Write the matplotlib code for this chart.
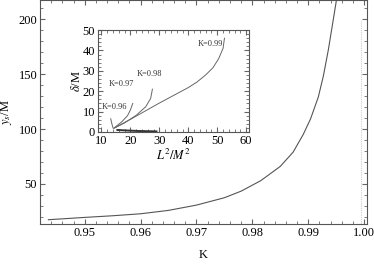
import numpy as np
import matplotlib.pyplot as plt
from matplotlib.ticker import MultipleLocator

plt.rcParams['font.family'] = ['Liberation Serif', 'DejaVu Serif']
plt.rcParams['mathtext.fontset'] = 'stix'

# main curve: y_s/M against K
K = [0.9435, 0.946, 0.95, 0.955, 0.96, 0.965, 0.97, 0.975, 0.978,
     0.9815, 0.985, 0.9873, 0.9891, 0.9904, 0.9918, 0.9927, 0.9936, 0.9945, 0.9952]
ys = [17.5, 18.3, 19.6, 21.1, 22.9, 26.0, 30.8, 37.5, 43.5,
      53.0, 66.0, 79.0, 95.0, 109.0, 129.0, 148.0, 172.0, 200.0, 222.0]

# inset curves: delta/M against L^2/M^2
L99 = [14.2, 20.0, 25.0, 30.0, 35.0, 40.0, 43.0, 46.0, 48.5, 50.5, 52.0, 52.5]
d99 = [1.8, 6.2, 10.2, 14.2, 18.0, 21.8, 24.5, 28.0, 31.5, 36.0, 41.0, 46.0]
L98 = [14.6, 18.0, 22.0, 25.3, 27.0, 27.6]
d98 = [2.0, 4.5, 8.2, 12.4, 16.5, 21.0]
L97 = [14.4, 17.0, 19.0, 20.0, 20.8]
d97 = [2.0, 5.0, 8.0, 10.8, 14.0]
L96 = [14.0, 13.6, 13.2]
d96 = [2.0, 4.0, 6.5]
L_low = [15.5, 18.0, 21.0, 24.0, 29.0]
d_low = [1.0, 0.8, 0.6, 0.45, 0.3]

labels = ['K=0.99', 'K=0.98', 'K=0.97', 'K=0.96']
label_pos = [(47.5, 43.0), (26.5, 28.4), (16.8, 23.5), (14.5, 12.3)]

fig = plt.figure(figsize=(3.74, 2.64), dpi=100)

ax = fig.add_axes([0.107, 0.1515, 0.874, 0.847])
ax.plot(K, ys, color='#555555', lw=0.8)
ax.axvline(0.9995, ymax=0.91, color='#cccccc', lw=0.8, ls=(0, (1, 1)))
ax.set_xlim(0.942, 1.0005)
ax.set_ylim(13.6, 217)
ax.set_xticks([0.95, 0.96, 0.97, 0.98, 0.99, 1.00])
ax.set_xticklabels(['0.95', '0.96', '0.97', '0.98', '0.99', '1.00'])
ax.set_yticks([50, 100, 150, 200])
ax.xaxis.set_minor_locator(MultipleLocator(0.002))
ax.yaxis.set_minor_locator(MultipleLocator(10))
ax.set_xlabel('K', fontsize=9, labelpad=7)
ax.set_ylabel('$y_s$/M', fontsize=9, labelpad=3)

ins = fig.add_axes([0.262, 0.5, 0.404, 0.386])
for xs, ds in [(L99, d99), (L98, d98), (L97, d97), (L96, d96)]:
    ins.plot(xs, ds, color='#666666', lw=0.7)
ins.plot(L_low, d_low, color='#333333', lw=1.4)
for lab, (lx, ly) in zip(labels, label_pos):
    ins.text(lx, ly, lab, fontsize=6, ha='center', va='center', color='#333333')
ins.set_xlim(8.8, 61)
ins.set_ylim(0, 50)
ins.set_xticks([10, 20, 30, 40, 50, 60])
ins.set_yticks([0, 10, 20, 30, 40, 50])
ins.xaxis.set_minor_locator(MultipleLocator(2))
ins.yaxis.set_minor_locator(MultipleLocator(2))
ins.set_xlabel('$L^2/M^2$', fontsize=9, labelpad=1)
ins.set_ylabel('$\\delta$/M', fontsize=9, labelpad=0)

for a in (ax, ins):
    a.tick_params(which='both', direction='in', top=True, right=True,
                  labelsize=9, color='#666666', pad=2)
    a.tick_params(which='major', length=3.5)
    a.tick_params(which='minor', length=2)
    for s in a.spines.values():
        s.set_color('#555555')
        s.set_linewidth(0.8)

fig.savefig('out.png', dpi=100)
